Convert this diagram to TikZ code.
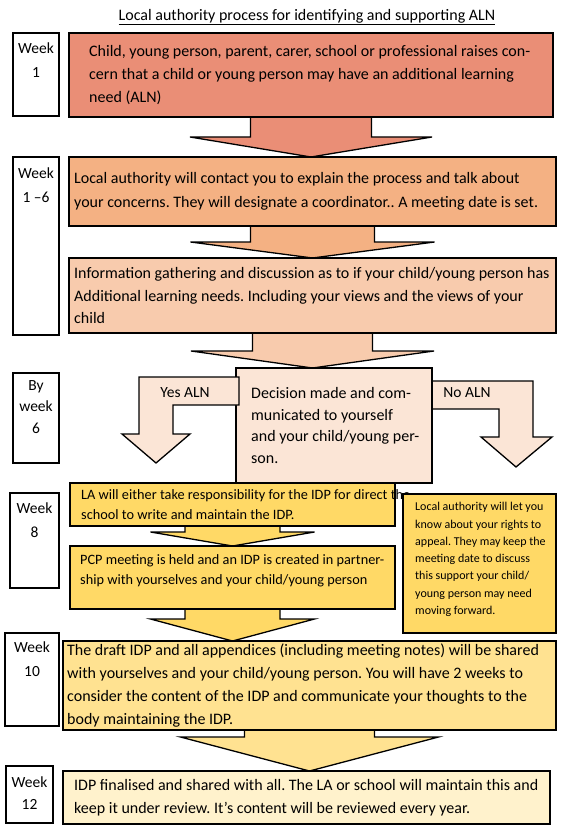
\documentclass[tikz,border=0pt]{standalone}
\usepackage{fontspec}
\setmainfont{Carlito}
\usetikzlibrary{calc,backgrounds}
\frenchspacing

\definecolor{concernfill}{HTML}{EA8E76}
\definecolor{contactfill}{HTML}{F4B183}
\definecolor{infofill}{HTML}{F8CBAD}
\definecolor{decisionfill}{HTML}{FBE5D6}
\definecolor{idpfill}{HTML}{FFD966}
\definecolor{draftfill}{HTML}{FFE291}
\definecolor{finalfill}{HTML}{FFF2CC}

\tikzset{
  stagebox/.style={draw=black, line width=1.8pt, anchor=north west, outer sep=0pt, inner sep=0pt},
  stagetext/.style={anchor=west, align=left, inner sep=0pt, font=\fontsize{16}{22.7}\selectfont},
  weekbox/.style={draw=black, line width=2.6pt, fill=white, anchor=north west, outer sep=0pt, inner sep=0pt},
  weektext/.style={anchor=north, align=center, inner sep=0pt, font=\fontsize{15.5}{24}\selectfont},
  arrowblock/.style={draw=black, line width=1.3pt, line join=miter},
}

% block arrow: from, to, fill, half shaft, half head, head height
\newcommand{\blockarrow}[6]{%
  \filldraw[arrowblock, fill=#3] ($(#1.south)+(-#4,0)$) -- ($(#1.south |- #2.north)+(-#4,-#6)$)
    -- ($(#1.south |- #2.north)+(-#5,-#6)$) -- (#1.south |- #2.north)
    -- ($(#1.south |- #2.north)+(#5,-#6)$) -- ($(#1.south |- #2.north)+(#4,-#6)$)
    -- ($(#1.south)+(#4,0)$);
}

\begin{document}
\begin{tikzpicture}[x=1pt, y=-1pt]
  \useasboundingbox (0,0) rectangle (570,834);

  \node[font=\fontsize{16}{17}\selectfont, inner sep=0pt] (title) at (307,17)
    {\underline{Local authority process for identifying and supporting ALN}};

  % week column
  \node[weekbox, minimum width=46pt, minimum height=83pt] (week1) at (13,33) {};
  \node[weektext] (week1text) at ($(week1.north)+(0,10)$) {Week\\1};
  \node[weekbox, minimum width=46pt, minimum height=178pt] (week16) at (13,157) {};
  \node[weektext] (week16text) at ($(week16.north)+(0,11)$) {Week\\1 --6};
  \node[weekbox, minimum width=46pt, minimum height=90pt] (week6) at (13,373) {};
  \node[weektext, font=\fontsize{15.5}{21.5}\selectfont] (week6text) at ($(week6.north)+(0,7)$) {By\\week\\6};
  \node[weekbox, minimum width=49pt, minimum height=95pt] (week8) at (10,493) {};
  \node[weektext] (week8text) at ($(week8.north)+(0,10)$) {Week\\8};
  \node[weekbox, minimum width=54pt, minimum height=93pt] (week10) at (5,633) {};
  \node[weektext] (week10text) at ($(week10.north)+(0,9)$) {Week\\10};
  \node[weekbox, minimum width=47pt, minimum height=57pt] (week12) at (6,766) {};
  \node[weektext, font=\fontsize{15.5}{22}\selectfont] (week12text) at ($(week12.north)+(0,11)$) {Week\\12};

  % stages
  \node[stagebox, fill=concernfill, minimum width=484pt, minimum height=84pt] (concern) at (69,33) {};
  \node[stagetext] (concerntext) at ($(concern.west)+(20,0)$)
    {Child, young person, parent, carer, school or professional raises con-\\
     cern that a child or young person may have an additional learning\\
     need (ALN)};
  \node[stagebox, fill=contactfill, minimum width=487pt, minimum height=69pt] (contact) at (69,157) {};
  \node[stagetext, font=\fontsize{16}{24}\selectfont] (contacttext) at ($(contact.west)+(5,0)$)
    {Local authority will contact you to explain the process and talk about\\
     your concerns. They will designate a coordinator.. A meeting date is set.};
  \node[stagebox, fill=infofill, minimum width=487pt, minimum height=75pt] (info) at (69,258) {};
  \node[stagetext] (infotext) at ($(info.west)+(5,0)$)
    {Information gathering and discussion as to if your child/young person has\\
     Additional learning needs. Including your views and the views of your\\
     child};
  \node[stagebox, fill=decisionfill, minimum width=196pt, minimum height=115pt] (decision) at (236,368) {};
  \node[stagetext, font=\fontsize{16}{21.5}\selectfont] (decisiontext) at ($(decision.west)+(15,0)$)
    {Decision made and com-\\
     municated to yourself\\
     and your child/young per-\\
     son.};
  \node[stagebox, fill=idpfill, minimum width=325pt, minimum height=43pt] (lachoice) at (70,483) {};
  \node[stagetext, font=\fontsize{14.3}{20}\selectfont] (lachoicetext) at ($(lachoice.west)+(11,0)$)
    {LA will either take responsibility for the IDP for direct the\\
     school to write and maintain the IDP.};
  \node[stagebox, fill=idpfill, minimum width=325pt, minimum height=63pt] (pcp) at (70,546) {};
  \node[stagetext, anchor=north west, font=\fontsize{14.3}{20}\selectfont] (pcptext) at ($(pcp.north west)+(10,8)$)
    {PCP meeting is held and an IDP is created in partner-\\
     ship with yourselves and your child/young person};
  \node[stagebox, fill=idpfill, minimum width=153pt, minimum height=139pt] (appeal) at (403,494) {};
  \node[stagetext, font=\fontsize{12}{17.3}\selectfont] (appealtext) at ($(appeal.west)+(12,-4)$)
    {Local authority will let you\\
     know about your rights to\\
     appeal. They may keep the\\
     meeting date to discuss\\
     this support your child/\\
     young person may need\\
     moving forward.};
  \node[stagebox, fill=draftfill, minimum width=493pt, minimum height=89pt] (draft) at (63,641) {};
  \node[stagetext] (drafttext) at ($(draft.west)+(4,0)$)
    {The draft IDP and all appendices (including meeting notes) will be shared\\
     with yourselves and your child/young person. You will have 2 weeks to\\
     consider the content of the IDP and communicate your thoughts to the\\
     body maintaining the IDP.};
  \node[stagebox, fill=finalfill, minimum width=487pt, minimum height=53pt] (final) at (63,771) {};
  \node[stagetext] (finaltext) at ($(final.west)+(11,0)$)
    {IDP finalised and shared with all. The LA or school will maintain this and\\
     keep it under review. It’s content will be reviewed every year.};

  % arrows
  \begin{scope}[on background layer]
    \blockarrow{concern}{contact}{concernfill}{60.5}{121}{20}
    \blockarrow{contact}{info}{contactfill}{62}{122}{16}
    \blockarrow{info}{decision}{infofill}{60}{121.5}{17}
    \blockarrow{lachoice}{pcp}{idpfill}{47.5}{82}{14}
    \blockarrow{pcp}{draft}{idpfill}{47.5}{82}{22}
    \blockarrow{draft}{final}{draftfill}{65}{129}{34}
    % no ALN
    \filldraw[arrowblock, fill=decisionfill] ($(decision.north east)+(-10,13)$) -- ($(decision.north east)+(101,13)$)
      -- ($(decision.north east)+(101,69)$) -- ($(decision.north east)+(120,69)$)
      -- ($(decision.north east)+(84,99)$) -- ($(decision.north east)+(49,69)$)
      -- ($(decision.north east)+(67,69)$) -- ($(decision.north east)+(67,41)$)
      -- ($(decision.north east)+(-10,41)$);
  \end{scope}
  % yes ALN
  \filldraw[arrowblock, fill=decisionfill] ($(decision.north west)+(3,9)$) -- ($(decision.north west)+(-97,9)$)
    -- ($(decision.north west)+(-97,66)$) -- ($(decision.north west)+(-114,66)$)
    -- ($(decision.north west)+(-80,95)$) -- ($(decision.north west)+(-46,66)$)
    -- ($(decision.north west)+(-63,66)$) -- ($(decision.north west)+(-63,37)$)
    -- ($(decision.north west)+(3,37)$) -- cycle;
  \node[font=\fontsize{15.5}{17}\selectfont] (yeslabel) at ($(decision.north west)+(-51,25)$) {Yes ALN};
  \node[font=\fontsize{15.5}{17}\selectfont] (nolabel) at ($(decision.north east)+(35,25)$) {No ALN};
\end{tikzpicture}
\end{document}
